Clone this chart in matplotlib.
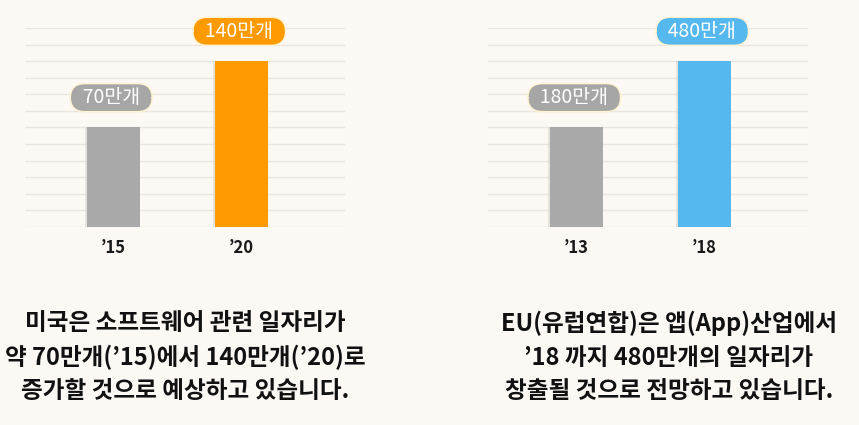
import matplotlib.pyplot as plt

plt.rcParams['font.family'] = ['Noto Sans CJK KR', 'DejaVu Sans']

W, H = 859, 425
bg = '#fcf8f4'

# left chart: US software jobs
us_years = ['’15', '’20']
us_values = [70, 140]            # 만개
us_levels = [6, 10]              # bar height as drawn, in grid steps
us_colors = ['#a9a9a9', '#ff9a00']
us_note = '미국은 소프트웨어 관련 일자리가\n약 70만개(’15)에서 140만개(’20)로\n증가할 것으로 예상하고 있습니다.'

# right chart: EU app industry jobs
eu_years = ['’13', '’18']
eu_values = [180, 480]
eu_levels = [6, 10]
eu_colors = ['#a9a9a9', '#55b8ef']
eu_note = 'EU(유럽연합)은 앱(App)산업에서\n’18 까지 480만개의 일자리가\n창출될 것으로 전망하고 있습니다.'

fig = plt.figure(figsize=(W / 100, H / 100), dpi=100, facecolor=bg)


def px_axes(x0, x1, ytop, ybot):
    return fig.add_axes([x0 / W, 1 - ybot / H, (x1 - x0) / W, (ybot - ytop) / H])


def draw(ax, years, values, levels, colors):
    ax.set_facecolor(bg)
    ax.set_xlim(-0.69, 1.81)
    ax.set_ylim(0, 12)
    ax.set_yticks(range(0, 13))
    ax.grid(axis='y', color='#ebe5df', lw=1)
    ax.set_axisbelow(True)
    for s in ax.spines.values():
        s.set_visible(False)
    xs = list(range(len(years)))
    # soft shadow
    ax.bar([x - 0.015 for x in xs], levels, width=0.42, color='#d8d4d0', alpha=0.6, zorder=2)
    ax.bar(xs, levels, width=0.41, color=colors, zorder=3)
    ax.set_xticks(xs)
    ax.set_xticklabels(years, fontsize=12, color='#1a1a1a', fontweight='bold')
    ax.tick_params(axis='x', length=0, pad=9)
    ax.tick_params(axis='y', length=0, labelleft=False)
    for x, lv, v, c in zip(xs, levels, values, colors):
        pill = '#a6a6a6' if c == '#a9a9a9' else c
        ax.annotate(f'  {v}만개  ', (x, lv), xytext=(-1.5, 21.5), textcoords='offset points',
                    ha='center', va='center', fontsize=14, color='white',
                    bbox=dict(boxstyle='round,pad=0.18,rounding_size=0.75',
                              fc=pill, ec='#fff3d0', lw=1), zorder=5)


ax1 = px_axes(25, 345, 28, 227)
draw(ax1, us_years, us_values, us_levels, us_colors)
ax2 = px_axes(488, 808, 28, 227)
draw(ax2, eu_years, eu_values, eu_levels, eu_colors)

fig.text(185 / W, 1 - 357 / H, us_note, ha='center', va='center', fontsize=17,
         fontweight='bold', color='#111111', linespacing=1.5)
fig.text(669 / W, 1 - 357 / H, eu_note, ha='center', va='center', fontsize=17,
         fontweight='bold', color='#111111', linespacing=1.5)

fig.savefig('out.png', dpi=100, facecolor=bg)
